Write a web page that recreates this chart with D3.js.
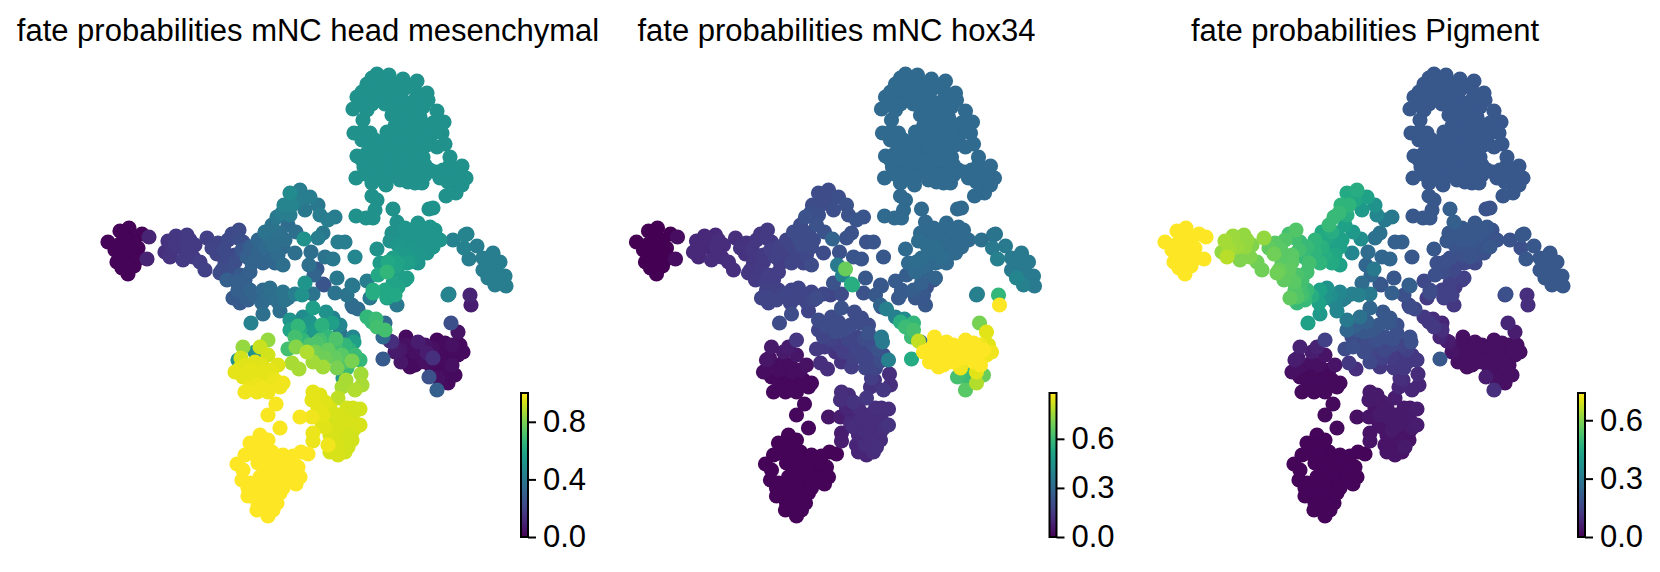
<!DOCTYPE html>
<html>
<head>
<meta charset="utf-8">
<script src="https://cdn.jsdelivr.net/npm/d3@7"></script>
<style>
  html, body { margin: 0; background: #fff; }
  svg { display: block; }
  text { font-family: "Liberation Sans", Arial, sans-serif; fill: #000; }
</style>
</head>
<body>
<div id="chart"></div>
<script>
// embedding position x, y, then fate probability: head mesenchymal, hox34, pigment
const leftClump = [
  [108,242,.01,.0,.74],[120,231,.01,.0,.74],[129,228,.01,.0,.74],[142,234,.01,.0,.74],[117,262,.01,.0,.74],
  [128,274,.01,.0,.74],[122,268,.01,.0,.74],[134,266,.01,.0,.74],[124,250,.01,.0,.74],[133,240,.01,.0,.74],
  [125,238,.01,.0,.74],[138,248,.01,.0,.74],[115,250,.01,.0,.74],[128,258,.01,.0,.74],[140,258,.01,.0,.74],
  [130,248,.01,.0,.74],[136,255,.01,.0,.74],[120,244,.01,.0,.74],[149,237,.1,.03,.74],[147,259,.1,.03,.74]
];
const leftBand = [
  [165,252,.14,.1,.62],[168,241,.15,.1,.64],[176,236,.16,.1,.63],[187,235,.17,.1,.62],[170,257,.15,.1,.66],
  [183,260,.17,.11,.6],[195,245,.17,.11,.6],[193,257,.17,.11,.6],[207,238,.19,.12,.62],[205,270,.19,.12,.58],
  [218,243,.2,.13,.55],[217,254,.2,.13,.58],[225,263,.22,.14,.55],[232,270,.24,.15,.56],[235,255,.22,.15,.55],
  [232,234,.22,.14,.52],[239,230,.23,.15,.54],[243,242,.24,.15,.5],[180,247,.16,.1,.63],[188,247,.17,.11,.62],
  [220,273,.23,.14,.58],[227,280,.3,.15,.56],[237,282,.3,.16,.55],[245,280,.3,.16,.52],[250,247,.3,.17,.5],
  [252,263,.32,.16,.52],[263,263,.32,.18,.48],[275,263,.33,.18,.45],[265,247,.34,.18,.47],[273,245,.36,.2,.42],
  [265,232,.38,.2,.45],[272,225,.38,.2,.5],[277,217,.4,.22,.5],[288,225,.35,.22,.42],[283,265,.36,.2,.42],
  [247,257,.3,.17,.5],[283,247,.34,.2,.42],[280,233,.36,.2,.42],
  [175,245,.16,.1,.63],[183,240,.16,.1,.62],[172,250,.15,.1,.64],[190,240,.17,.11,.62],[200,262,.18,.12,.58],
  [212,248,.2,.13,.56],[224,250,.22,.14,.55],[228,240,.22,.14,.54],[238,238,.23,.15,.52],[222,270,.23,.14,.57],
  [235,262,.24,.15,.55],[242,250,.26,.16,.52],[258,252,.32,.17,.48],[268,255,.33,.18,.46],[278,255,.35,.19,.44],
  [258,240,.33,.18,.48],[270,238,.36,.2,.44],[275,232,.37,.2,.46],[285,240,.36,.2,.42],[240,275,.28,.16,.53],[250,272,.3,.16,.52]
];
const topArm = [
  [284,205,.45,.2,.48],[290,193,.48,.2,.45],[300,190,.42,.2,.46],[310,197,.42,.21,.42],[318,205,.4,.22,.38],
  [320,215,.42,.22,.34],[335,217,.42,.23,.3],[328,220,.42,.23,.3],[323,233,.4,.22,.28],[318,238,.42,.22,.28],
  [304,239,.5,.28,.36],[295,253,.36,.2,.34],[311,252,.36,.22,.26],[325,257,.38,.23,.24],[333,259,.4,.23,.24],
  [338,242,.42,.22,.22],[345,242,.42,.23,.22],[355,257,.46,.24,.2],[309,265,.36,.36,.24],[317,269,.28,.68,.3],
  [314,275,.32,.4,.24],[337,278,.4,.24,.2],[323,284,.26,.55,.2],[305,283,.52,.22,.26],[352,285,.4,.24,.22],
  [377,249,.5,.3,.2],[313,294,.38,.2,.3],[302,295,.5,.18,.32],[324,285,.26,.55,.18],[335,293,.38,.22,.22],
  [353,286,.4,.24,.22],[347,295,.38,.24,.18],[353,307,.33,.22,.17],[367,281,.42,.25,.16],[380,263,.55,.3,.18],
  [292,205,.45,.2,.48],[282,213,.42,.21,.5],[290,215,.42,.21,.46],[298,200,.42,.2,.44],[305,210,.4,.21,.4],[296,232,.36,.22,.4]
];
const topBlob = [
  [377,74],[389,75],[403,79],[417,81],[367,84],[357,97],[353,109],[427,93],[428,100],[437,111],[444,122],
  [442,133],[445,144],[363,120],[354,133],[362,140],[357,156],[356,178],[364,167],[450,157],[462,166],
  [466,178],[462,185],[456,193],[446,196],[415,183],[422,183],[400,180],[386,185],[372,183],[372,196],
  [377,200],[375,210],[356,216],[366,218],[373,218],[377,87],[390,87],[403,90],[417,93],[370,97],[383,97],
  [397,100],[410,103],[423,107],[367,110],[392,115],[407,113],[420,117],[433,123],[403,127],[387,132],
  [415,130],[430,137],[370,133],[380,143],[393,143],[407,138],[420,145],[437,147],[367,153],[380,157],
  [393,153],[407,153],[423,157],[377,167],[390,167],[403,167],[417,167],[430,170],[443,170],[453,173],
  [440,178],[380,175],[393,175],[408,175],
  [372,78],[383,80],[397,84],[410,86],[362,92],[375,92],[388,92],[400,96],[415,100],[360,104],
  [372,104],[385,104],[398,108],[412,108],[438,120],[398,118],[412,122],[425,125],
  [438,130],[395,126],[408,132],[422,132],[362,132],[375,140],[388,138],[400,135],
  [413,140],[427,145],[372,148],[385,150],[400,148],[413,148],[362,160],[372,160],[385,162],
  [398,160],[412,160],[425,165],[450,165],[458,172],[448,182],[458,180],[368,175],[385,178],
  [400,172],[412,175],[425,175],[436,172],[408,182]
].map(p => [...p, .5, .3, .2]);
const rightCluster = [
  [393,209,.5,.3,.22],[397,222,.5,.3,.22],[402,232,.5,.3,.2],[392,233,.5,.3,.2],[390,241,.5,.31,.2],
  [429,209,.51,.3,.19],[433,208,.51,.3,.19],[418,223,.52,.3,.2],[430,227,.52,.3,.2],[435,230,.52,.3,.19],
  [440,240,.52,.3,.19],[410,237,.52,.3,.2],[423,235,.52,.3,.2],[407,247,.53,.31,.19],[420,247,.52,.3,.19],
  [433,247,.52,.3,.2],[400,253,.54,.31,.18],[413,257,.53,.31,.19],[427,253,.52,.3,.18],[397,263,.58,.3,.16],
  [407,263,.56,.3,.16],[418,263,.52,.3,.16],[395,267,.58,.3,.16],[387,272,.66,.3,.17],[378,275,.6,.26,.18],
  [397,270,.56,.28,.16],[407,278,.56,.28,.14],[393,283,.58,.27,.14],[373,290,.62,.25,.17],[385,290,.6,.26,.14],
  [373,293,.62,.25,.17],[387,297,.6,.24,.14],[395,295,.6,.24,.14],[405,280,.55,.22,.13],[398,287,.58,.22,.13],
  [405,228,.52,.3,.2],[412,230,.52,.3,.2],[425,232,.52,.3,.2],[415,240,.52,.3,.2],[430,240,.52,.3,.19],
  [405,240,.52,.3,.2],[400,247,.53,.31,.19],[413,250,.53,.3,.19],[427,247,.52,.3,.19],[393,258,.56,.31,.18],
  [405,255,.54,.3,.18],[420,255,.53,.3,.18],[388,262,.6,.31,.18],[432,235,.52,.3,.19],[398,245,.52,.31,.19],[410,262,.55,.3,.16]
];
const rightArm = [
  [453,240,.44,.32,.19],[467,234,.45,.34,.2],[464,248,.44,.36,.18],[477,246,.42,.36,.2],[469,259,.42,.38,.2],
  [483,258,.42,.36,.2],[493,253,.42,.36,.2],[483,270,.42,.36,.2],[492,265,.42,.36,.2],[500,262,.42,.36,.2],
  [488,278,.42,.4,.2],[497,272,.42,.36,.2],[505,276,.42,.36,.2],[495,285,.42,.38,.2],[506,286,.42,.36,.2]
];
const centerGreen = [
  [290,320,.52,.2,.3],[303,317,.48,.2,.28],[298,326,.66,.2,.22],[313,308,.56,.22,.24],[326,312,.5,.2,.2],
  [333,318,.44,.2,.2],[322,325,.64,.2,.2],[332,323,.56,.2,.2],[307,332,.48,.2,.2],[315,330,.54,.2,.2],
  [340,333,.38,.22,.18],[295,337,.7,.18,.17],[336,339,.72,.2,.18],[354,342,.56,.36,.18],[353,337,.46,.36,.18],
  [288,349,.7,.15,.17],[296,347,.82,.15,.18],[307,352,.88,.13,.17],[313,362,.86,.13,.16],[317,343,.72,.16,.16],
  [328,350,.76,.18,.16],[323,367,.86,.16,.12],[337,368,.8,.18,.12],[342,355,.74,.18,.12],[352,361,.8,.2,.12],
  [355,355,.68,.2,.12],[360,360,.66,.38,.12],[347,368,.68,.18,.12],[343,378,.54,.16,.1],[361,374,.86,.12,.09],
  [346,380,.87,.13,.09],[342,387,.87,.13,.08],[355,390,.88,.14,.08],[362,385,.87,.12,.08],[303,340,.66,.17,.16],
  [320,340,.7,.18,.18],[328,337,.66,.18,.18],[292,363,.87,.12,.12],[299,369,.87,.12,.1],
  [310,345,.72,.16,.17],[335,345,.7,.18,.16],[345,345,.66,.2,.15],[300,330,.6,.18,.2],[325,358,.78,.17,.14],
  [315,352,.78,.16,.15],[335,358,.76,.18,.13],[345,362,.72,.18,.12],[350,350,.64,.22,.14],[290,330,.58,.18,.24],
  [310,322,.52,.2,.22],[340,325,.46,.2,.18]
];
const midLeft = [
  [268,340,.84,.14,.14],[243,347,.84,.06,.07],[260,347,.92,.07,.07],[238,360,.5,.05,.06],[241,358,.93,.04,.05],
  [235,372,.96,.03,.03],[255,352,.5,.06,.06],[268,355,.93,.05,.04],[278,365,.95,.04,.04],[263,372,.96,.03,.02],
  [250,370,.96,.03,.02],[243,377,.96,.02,.02],[270,377,.96,.02,.02],[245,392,.98,.02,.02],[257,392,.98,.02,.02],
  [268,392,.98,.02,.02],[280,387,.98,.02,.02],[283,383,.98,.02,.02],[255,380,.96,.02,.02],[265,382,.96,.02,.02],
  [276,404,.99,.02,.02],[268,415,.99,.02,.02],[280,428,.99,.02,.02],
  [245,365,.95,.03,.03],[255,362,.95,.03,.03],[262,365,.95,.03,.03],[272,370,.96,.03,.02],[240,368,.95,.03,.03],
  [250,380,.96,.02,.02],[258,385,.97,.02,.02],[272,385,.97,.02,.02],[275,380,.97,.02,.02],[250,388,.97,.02,.02],[262,388,.98,.02,.02]
];
const midRight = [
  [313,392,.96,.12,.05],[312,400,.96,.12,.05],[325,402,.95,.13,.05],[338,398,.9,.14,.06],[300,417,.99,.05,.03],
  [312,417,.98,.07,.04],[323,415,.96,.09,.05],[338,415,.94,.11,.05],[347,408,.93,.12,.05],[360,409,.93,.12,.06],
  [353,408,.93,.12,.05],[360,425,.94,.13,.06],[347,422,.94,.11,.05],[325,427,.95,.11,.04],[313,433,.97,.07,.04],
  [313,441,.97,.07,.04],[328,445,.98,.09,.04],[335,430,.94,.11,.05],[338,455,.94,.09,.04],[337,445,.94,.11,.04],
  [352,440,.93,.11,.04],[348,447,.93,.12,.05],[353,420,.93,.11,.05],[333,418,.93,.11,.05],
  [320,395,.95,.11,.05],[330,408,.94,.11,.05],[345,415,.93,.11,.05],[340,425,.93,.11,.05],[352,432,.93,.11,.04],
  [345,435,.93,.11,.04],[330,435,.94,.1,.04],[322,423,.95,.1,.04],[342,440,.93,.11,.04],[355,428,.93,.12,.05],
  [330,452,.94,.09,.04],[345,452,.93,.11,.04],[318,408,.96,.09,.04],[350,415,.93,.11,.05]
];
const bottomClump = [
  [260,435],[250,443],[268,440],[245,455],[237,464],[272,452],[283,455],[301,452],[308,454],[298,467],[300,477],
  [296,484],[242,480],[250,483],[248,496],[258,503],[277,503],[268,493],[260,477],[258,463],[270,467],[280,473],
  [288,470],[273,483],[285,483],[263,490],[250,453],[263,453],[280,493],[268,510],[273,510],[257,510],
  [268,516],[255,447],[262,446],[243,470],[265,460],[277,460],[290,462],[293,456],[265,472],[275,478],[290,478],
  [255,490],[262,500],[272,497],[283,488],[248,488],[258,485],[268,483],[268,503],[278,467]
].map(p => [...p, 1, .01, .01]);
const purpleRight = [
  [406,337,.03,.88,.03],[400,350,.06,.88,.03],[418,342,.08,.88,.03],[401,362,.06,.88,.03],[410,367,.03,.88,.03],
  [437,340,.02,.88,.03],[427,353,.08,.88,.03],[433,358,.14,.88,.03],[448,352,.03,.88,.03],[445,343,.03,.88,.03],
  [440,368,.03,.6,.03],[429,377,.25,.62,.06],[437,390,.3,.65,.1],[448,383,.03,.78,.03],[414,352,.04,.88,.03],
  [420,362,.03,.88,.03],[440,355,.03,.88,.03],[452,345,.04,.86,.03],[460,345,.03,.84,.03],[458,355,.03,.86,.03],
  [452,365,.04,.88,.03],[463,352,.03,.86,.03],[455,375,.03,.68,.03],
  [405,345,.04,.88,.03],[410,355,.03,.88,.03],[405,360,.03,.88,.03],[415,365,.03,.88,.03],[425,345,.05,.88,.03],
  [432,348,.04,.88,.03],[440,348,.03,.88,.03],[425,362,.04,.88,.03],[432,368,.03,.86,.03],[445,362,.03,.88,.03],
  [455,350,.03,.88,.03],[448,372,.03,.84,.03],[395,352,.07,.88,.04],[438,378,.04,.6,.03]
];
const strays = [
  [251,323,.44,.2,.42],[233,298,.28,.18,.56],[243,290,.3,.17,.52],[240,303,.28,.18,.5],[248,300,.3,.18,.5],
  [263,290,.34,.18,.42],[262,303,.34,.18,.42],[263,314,.36,.2,.4],[280,311,.36,.18,.34],[274,295,.36,.18,.36],
  [283,292,.38,.18,.34],[288,298,.38,.2,.3],[358,309,.35,.38,.16],[372,322,.66,.55,.12],[377,327,.7,.6,.12],
  [385,330,.7,.62,.1],[367,317,.66,.38,.12],[376,319,.68,.42,.1],[385,323,.34,.58,.08],[383,337,.34,.6,.08],
  [390,341,.14,.8,.06],[392,342,.12,.3,.05],[383,359,.28,.54,.2],[449,294,.42,.38,.18],[448,295,.45,.36,.16],
  [470,295,.1,.58,.1],[451,323,.24,.7,.08],[458,332,.05,.84,.06],[471,305,.08,.88,.1],[352,305,.35,.28,.14],
  [370,298,.4,.24,.13],[387,298,.55,.24,.12],[397,305,.4,.24,.12],[437,240,.52,.3,.19],[465,235,.45,.32,.2],
  [238,290,.3,.17,.54],[245,295,.3,.17,.52],[250,290,.32,.17,.5],[255,296,.32,.18,.46],[240,297,.28,.18,.54],
  [268,298,.35,.18,.38],[278,302,.36,.18,.34],[295,294,.42,.19,.32],[285,300,.38,.19,.32],[270,288,.36,.18,.38]
];

const clusters = [leftClump, leftBand, topArm, topBlob, rightCluster, rightArm, centerGreen, midLeft, midRight, bottomClump, purpleRight, strays];
const titles = ['fate probabilities mNC head mesenchymal', 'fate probabilities mNC hox34', 'fate probabilities Pigment'];
const maxValues = [1.0, 0.88, 0.74];
const colorbarTicks = [[0, 0.4, 0.8], [0, 0.3, 0.6], [0, 0.3, 0.6]];

const W = 1660, H = 572, PANEL_STEP = 528.5, R = 7.6;
const cells = clusters.flat();

const svg = d3.select('#chart').append('svg').attr('width', W).attr('height', H);
const defs = svg.append('defs');
defs.append('linearGradient').attr('id', 'viridis')
  .attr('x1', 0).attr('y1', 1).attr('x2', 0).attr('y2', 0)
  .selectAll('stop').data(d3.range(0, 1.001, 0.05)).enter().append('stop')
  .attr('offset', d => d)
  .attr('stop-color', d => d3.interpolateViridis(d));

titles.forEach((title, i) => {
  const x = d3.scaleLinear().domain([0, 500]).range([i * PANEL_STEP, i * PANEL_STEP + 500]);
  const y = d3.scaleLinear().domain([0, 572]).range([0, 572]);
  const color = d3.scaleSequential(d3.interpolateViridis).domain([0, maxValues[i]]);
  const g = svg.append('g');

  g.append('text')
    .attr('x', x(308))
    .attr('y', 41)
    .attr('text-anchor', 'middle')
    .style('font-size', '31px')
    .text(title);

  // highest values are drawn last, like scanpy's sort_order
  const sorted = cells.slice().sort((a, b) => a[2 + i] - b[2 + i]);
  g.append('g').selectAll('circle').data(sorted).enter().append('circle')
    .attr('cx', d => x(d[0]))
    .attr('cy', d => y(d[1]))
    .attr('r', R)
    .attr('fill', d => color(d[2 + i]));

  // Colorbar
  const barY = d3.scaleLinear().domain([0, maxValues[i]]).range([537, 393]);
  const barX = x(520);
  g.append('rect')
    .attr('x', barX + 1).attr('y', 393).attr('width', 7).attr('height', 144)
    .attr('fill', 'url(#viridis)')
    .attr('stroke', '#000').attr('stroke-width', 2);

  const axis = d3.axisRight(barY).tickValues(colorbarTicks[i]).tickFormat(d3.format('.1f')).tickSize(8).tickPadding(7);
  const axisG = g.append('g').attr('transform', `translate(${barX + 8},0)`).call(axis);
  axisG.select('.domain').remove();
  axisG.selectAll('line').attr('stroke', '#000').attr('stroke-width', 2);
  axisG.selectAll('text').style('font-size', '31px').attr('font-family', '"Liberation Sans", Arial, sans-serif').attr('fill', '#000');
});
</script>
</body>
</html>
